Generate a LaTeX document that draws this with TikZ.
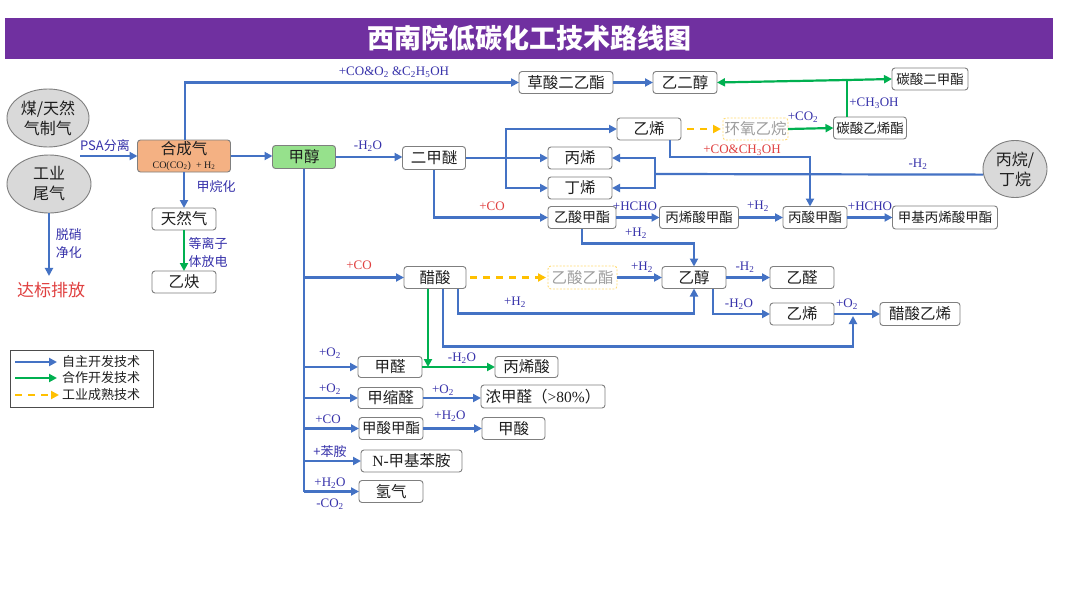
\documentclass[tikz,border=0pt]{standalone}
\usepackage{fontspec}
\setmainfont{Liberation Serif}
\newfontfamily\cjk{Noto Sans CJK SC}
\usetikzlibrary{arrows.meta,calc,shapes.geometric}
\definecolor{cblue}{RGB}{68,114,196}
\definecolor{cgreen}{RGB}{0,176,80}
\definecolor{cyel}{RGB}{255,192,0}
\definecolor{cpurple}{RGB}{112,48,160}
\definecolor{cgray}{RGB}{127,127,127}
\definecolor{ctext}{RGB}{30,30,30}
\definecolor{clbl}{RGB}{55,50,170}
\definecolor{cred}{RGB}{224,64,64}
\definecolor{corange}{RGB}{244,177,131}
\definecolor{cmint}{RGB}{150,225,140}
\definecolor{cell}{RGB}{217,217,217}
\newcommand\sbs[1]{\textsubscript{#1}}
\begin{document}
\begin{tikzpicture}[x=1pt,y=-1pt,
  box/.style={draw=cgray,line width=0.9pt,rounded corners=3pt,fill=white,text=ctext,font=\cjk\fontsize{15.5}{17}\selectfont,minimum height=22pt,inner sep=1pt,outer sep=0pt},
  sm/.style={font=\cjk\fontsize{13.5}{15}\selectfont},
  dbox/.style={box,draw=cyel!55,dash pattern=on 2pt off 1.5pt,text=black!38},
  ell/.style={ellipse,draw=cgray,line width=0.9pt,fill=cell,text=ctext,font=\cjk\fontsize{16}{20}\selectfont,align=center,inner sep=0pt},
  lbl/.style={text=clbl,font=\fontsize{13}{14}\selectfont,inner sep=0pt},
  rlbl/.style={lbl,text=cred},
  clbl/.style={lbl,font=\cjk\fontsize{13}{18}\selectfont,align=center},
  bl/.style={draw=cblue,line width=2.2pt},
  ba/.style={bl,-{Triangle[length=8pt,width=8pt]}},
  gl/.style={draw=cgreen,line width=2.2pt},
  ga/.style={gl,-{Triangle[length=8pt,width=8pt]}},
  ya/.style={draw=cyel,line width=2.2pt,dash pattern=on 7pt off 6pt,-{Triangle[length=8pt,width=8pt]}},
  legtext/.style={anchor=west,font=\cjk\fontsize{13}{14}\selectfont,text=ctext,inner sep=0pt}
]
\useasboundingbox (0,0) rectangle (1080,608);
\fill[white] (0,0) rectangle (1080,608);

% title
\node[fill=cpurple,minimum width=1048pt,minimum height=41pt,inner sep=0pt,text=white,font=\cjk\bfseries\fontsize{27}{30}\selectfont] (title) at (529,38.5) {西南院低碳化工技术路线图};

% nodes
\node[ell,minimum width=82pt,minimum height=58pt] (coal) at (48,118) {煤/天然\\气制气};
\node[ell,minimum width=84pt,minimum height=58pt] (ind) at (49,184) {工业\\尾气};
\node[text=cred,font=\cjk\fontsize{17}{19}\selectfont,inner sep=0pt] (emit) at (51,290) {达标排放};
\coordinate (psa) at (80,156);
\node[box,fill=corange,minimum width=93pt,minimum height=32pt,align=center,inner sep=0pt] (syn) at (184,156) {合成气\\[-3pt]{\rmfamily\fontsize{10}{11}\selectfont CO(CO\sbs{2})\ \ + H\sbs{2}}};
\node[box,fill=cmint,minimum width=63pt,minimum height=23pt] (meoh) at (304,157) {甲醇};
\node[box,minimum width=64pt] (ng) at (184,219) {天然气};
\node[box,minimum width=64pt] (c2h2) at (184,282) {乙炔};
\node[box,minimum width=94pt] (cao) at (566,82.5) {草酸二乙酯};
\node[box,minimum width=64pt] (eg) at (685,82.5) {乙二醇};
\node[box,sm,minimum width=76pt] (dmc) at (930,79) {碳酸二甲酯};
\node[box,sm,minimum width=73pt] (ec) at (870,128) {碳酸乙烯酯};
\node[box,minimum width=64pt] (e1) at (649,129) {乙烯};
\node[dbox,minimum width=65pt] (eo) at (755.5,129) {环氧乙烷};
\node[box,minimum width=63pt,minimum height=23pt] (dme) at (434,158) {二甲醚};
\node[box,minimum width=64pt] (pe) at (580,158) {丙烯};
\node[box,minimum width=64pt] (be) at (580,188) {丁烯};
\node[ell,minimum width=64pt,minimum height=57pt] (pb) at (1015,169) {丙烷/\\丁烷};
\node[box,font=\cjk\fontsize{14}{16}\selectfont,minimum width=68pt] (ma) at (582,217.5) {乙酸甲酯};
\node[box,sm,minimum width=79pt] (mac) at (699,217.5) {丙烯酸甲酯};
\node[box,sm,minimum width=64pt] (mp) at (815,217.5) {丙酸甲酯};
\node[box,sm,minimum width=105pt,minimum height=23pt] (mma) at (945,217.5) {甲基丙烯酸甲酯};
\node[box,minimum width=62pt] (aa) at (435,277.5) {醋酸};
\node[dbox,minimum width=69pt,minimum height=23pt] (ea) at (582.5,277.5) {乙酸乙酯};
\node[box,minimum width=64pt] (etoh) at (694,277.5) {乙醇};
\node[box,minimum width=64pt] (ald) at (802,277.5) {乙醛};
\node[box,minimum width=64pt] (e2) at (802,314) {乙烯};
\node[box,minimum width=80pt,minimum height=23pt] (va) at (920,314) {醋酸乙烯};
\node[box,minimum width=64pt,minimum height=21pt] (fa) at (390,367) {甲醛};
\node[box,minimum width=63pt,minimum height=21pt] (aca) at (526.5,367) {丙烯酸};
\node[box,minimum width=65pt,minimum height=21pt] (dmm) at (390.5,398) {甲缩醛};
\node[box,minimum width=124pt,minimum height=23pt] (cfa) at (543,396.5) {浓甲醛（{\rmfamily >80\%}）};
\node[box,font=\cjk\fontsize{14.5}{16}\selectfont,minimum width=64pt] (mf) at (391,428.5) {甲酸甲酯};
\node[box,minimum width=63pt] (fo) at (513.5,428.5) {甲酸};
\node[box,minimum width=101pt] (nma) at (411.5,461) {{\rmfamily N-}甲基苯胺};
\node[box,minimum width=64pt] (h2) at (391,491.5) {氢气};

% connectors
\draw[ba,shorten >=6pt] (ind.south) -- (ind.south |- emit.north);
\draw[ba] (psa) -- (syn.west);
\draw[ba] (syn.east) -- (syn.east -| meoh.west);
\draw[ba] ([xshift=1pt]syn.north) |- (cao.west);
\draw[ba] (syn.south) -- (ng.north);
\draw[ga] (ng.south) -- (c2h2.north);
\draw[ba] (cao.east) -- (eg.west);
\coordinate (gj) at (847,80);
\draw[gl] (ec.north -| gj) -- (gj);
\draw[ga] (gj) -- (eg.east);
\draw[ga] (gj) -- (dmc.west);
\draw[ya,shorten <=6pt,shorten >=2pt] (e1.east) -- (eo.west);
\draw[ga] (eo.east) -- (ec.west);
\draw[ba] (meoh.east) -- (meoh.east -| dme.west);
\draw[ba] (dme.east) -- (pe.west);
\coordinate (bj) at (506,158);
\draw[ba] (bj) |- (e1.west);
\draw[ba] (bj) |- (be.west);
\coordinate (pj) at (655,174);
\draw[bl] (pb.190) -- (pj);
\draw[ba] (pj) |- (pe.east);
\draw[ba] (pj) |- (be.east);
\draw[ba] ([xshift=21pt]e1.south) -- ++(0,17) -| ([xshift=-5pt]mp.north);
\draw[ba] (dme.south) |- (ma.west);
\draw[ba] (ma.east) -- (mac.west);
\draw[ba] (mac.east) -- (mp.west);
\draw[ba] (mp.east) -- (mma.west);
\draw[ba] (ma.south) -- ++(0,15) -| (etoh.north);
\draw[bl] (meoh.south) -- (meoh.south |- h2.west);
\foreach \nn in {aa,fa,dmm,mf,nma,h2} \draw[ba] (meoh.south |- \nn.west) -- (\nn.west);
\draw[ya,shorten <=4pt,shorten >=2pt] (aa.east) -- (ea.west);
\draw[ba] (ea.east) -- (etoh.west);
\draw[ba] ([xshift=23pt]aa.south) -- ++(0,25) -| (etoh.south);
\coordinate (vj) at (853,314);
\draw[ba,shorten >=2pt] ([xshift=8pt]aa.south) -- ++(0,58) -| (vj);
\coordinate (gj2) at ([xshift=-7pt]aa.south |- fa.east);
\draw[ga] ([xshift=-7pt]aa.south) -- (gj2);
\draw[ga] (fa.east) -- (aca.west);
\draw[ba] (etoh.east) -- (ald.west);
\draw[ba] ([xshift=19pt]etoh.south) |- (e2.west);
\draw[ba] (e2.east) -- (va.west);
\draw[ba] (dmm.east) -- (dmm.east -| cfa.west);
\draw[ba] (mf.east) -- (fo.west);

% labels
\node[clbl] (lpsa) at (105,146) {PSA分离};
\node[clbl] (lmeth) at (216,187) {甲烷化};
\node[clbl] (lplas) at (208,253) {等离子\\体放电};
\node[clbl] (lden) at (69,244) {脱硝\\净化};
\node[lbl] (l1) at (394,72) {+CO\&O\sbs{2} \&C\sbs{2}H\sbs{5}OH};
\node[lbl] (l2) at (368,146) {-H\sbs{2}O};
\node[lbl] (l3) at (803,117) {+CO\sbs{2}};
\node[lbl] (l4) at (874,103) {+CH\sbs{3}OH};
\node[lbl] (l5) at (918,164) {-H\sbs{2}};
\node[rlbl] (l6) at (742,150) {+CO\&CH\sbs{3}OH};
\node[rlbl] (l7) at (492,206) {+CO};
\node[lbl] (l8) at (635,206) {+HCHO};
\node[lbl] (l9) at (758,206) {+H\sbs{2}};
\node[lbl] (l10) at (870,206) {+HCHO};
\node[lbl] (l11) at (636,233) {+H\sbs{2}};
\node[rlbl] (l12) at (359,265) {+CO};
\node[lbl] (l13) at (642,267) {+H\sbs{2}};
\node[lbl] (l14) at (515,302) {+H\sbs{2}};
\node[lbl] (l15) at (745,267) {-H\sbs{2}};
\node[lbl] (l16) at (739,304) {-H\sbs{2}O};
\node[lbl] (l17) at (847,304) {+O\sbs{2}};
\node[lbl] (l18) at (330,353) {+O\sbs{2}};
\node[lbl] (l19) at (462,358) {-H\sbs{2}O};
\node[lbl] (l20) at (330,389) {+O\sbs{2}};
\node[lbl] (l21) at (443,390) {+O\sbs{2}};
\node[lbl] (l22) at (328,419) {+CO};
\node[lbl] (l23) at (450,416) {+H\sbs{2}O};
\node[clbl] (l24) at (330,452) {+苯胺};
\node[lbl] (l25) at (330,483) {+H\sbs{2}O};
\node[lbl] (l26) at (330,504) {-CO\sbs{2}};

% legend
\node[draw=black!70,line width=0.8pt,minimum width=143pt,minimum height=57pt,inner sep=0pt] (legend) at (81.5,378.5) {};
\node[legtext] (lg1) at (62,362) {自主开发技术};
\node[legtext] (lg2) at (62,378) {合作开发技术};
\node[legtext] (lg3) at (62,395) {工业成熟技术};
\coordinate (ls1) at (15,362);
\coordinate (ls2) at (15,378);
\coordinate (ls3) at (15,395);
\draw[ba] (ls1) -- ([xshift=-5pt]lg1.west);
\draw[ga] (ls2) -- ([xshift=-5pt]lg2.west);
\draw[ya] (ls3) -- ([xshift=-3pt]lg3.west);
\end{tikzpicture}
\end{document}
